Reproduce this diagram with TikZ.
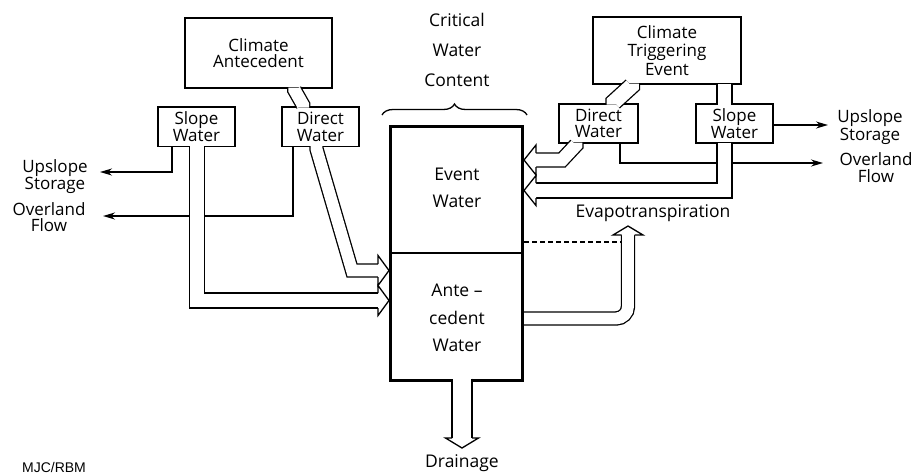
\documentclass[tikz,border=0pt]{standalone}
\usepackage{fontspec}
\setmainfont{Open Sans}
\newfontfamily\credfont{Liberation Sans}
\usetikzlibrary{arrows.meta,decorations.pathreplacing}
\tikzset{
  box/.style={draw, line width=1.3pt, fill=white, align=center, inner sep=0pt,
    font=\fontsize{17}{16.5}\selectfont},
  pipe/.style={line width=1.3pt, double=white, double distance=#1, line cap=butt, line join=miter},
  flow/.style={line width=1.5pt, -{Stealth[length=12pt,width=7pt]}},
  lbl/.style={align=center, inner sep=0pt},
}
\newcommand{\htip}[5]{%
  \begin{scope}[shift={#1}, rotate=#2]
    \filldraw[fill=white, line width=1.3pt, line join=miter] (0,#3) -- (0,#4) -- (#5,0) -- (0,-#4) -- (0,-#3);
  \end{scope}}
\begin{document}
\begin{tikzpicture}[x=1pt,y=-1pt]
\useasboundingbox[fill=white] (0,0) rectangle (915,475);

% boxes
\node[box, minimum width=147, minimum height=70] (climA) at (258.5,53) {Climate\\Antecedent};
\node[box, minimum width=77, minimum height=39.5] (slopeL) at (196.5,126.75) {Slope\\Water};
\node[box, minimum width=77, minimum height=39.5] (directL) at (320.5,126.75) {Direct\\Water};
\node[box, minimum width=148, minimum height=67, font=\fontsize{17}{18.5}\selectfont] (climT) at (667,50.5) {Climate\\Triggering\\Event};
\node[box, minimum width=79, minimum height=39] (directR) at (598.5,123.5) {Direct\\Water};
\node[box, minimum width=77, minimum height=39] (slopeR) at (734.5,123.5) {Slope\\Water};

% main store
\node[draw, line width=3pt, minimum width=132, minimum height=254, inner sep=0pt] (main) at (456.5,253) {};
\coordinate (divL) at (390.5,253);
\coordinate (divR) at (522.5,253);
\draw[line width=2pt] (divL) -- (divR);

% thin flows (drawn before pipes so pipes pass over them)
\coordinate (upL) at (100,172);
\coordinate (ovL) at (103,216);
\coordinate (ovR) at (823,163);
\coordinate (upR) at (828,125);
\draw[flow] (172,146.5) -- (172,172) -- (upL);
\draw[flow] (293,146.5) -- (293,216) -- (ovL);
\draw[flow] (620,143) -- (620,163) -- (ovR);
\draw[flow] (773,125) -- (upR);

% dashed level line
\draw[line width=1.3pt, dash pattern=on 5pt off 3pt] (524,242) -- (622,242);

% pipes left
\draw[pipe=12.3] (294.5,87.5) -- (294.5,90) -- (303,105) -- (303,107.5);
\draw[pipe=11.8] (316.5,146) -- (316.5,149) -- (352,270.5) -- (378,270.5);
\htip{(378,270.5)}{0}{6.5}{15}{11}
\draw[pipe=13.7] (197,146) -- (197,300.5) -- (378,300.5);
\htip{(378,300.5)}{0}{7.5}{15}{11}

% pipes right
\draw[pipe=14.8] (631.5,83.5) -- (631.5,86) -- (614,102) -- (614,104.5);
\draw[pipe=12.8] (576,142.5) -- (576,145) -- (562,160) -- (536,160);
\htip{(536,160)}{180}{7}{15}{12}
\draw[pipe=13.7] (724.5,83.5) -- (724.5,104.5);
\draw[pipe=13.7] (724.5,142.5) -- (724.5,190.5) -- (536,190.5);
\htip{(536,190.5)}{180}{7.5}{15}{12}

% evapotranspiration
\draw[pipe=11.8, rounded corners=12pt] (524,318.5) -- (628,318.5) -- (628,235);
\htip{(628,235)}{90}{6.5}{15}{9}

% drainage
\draw[pipe=18.8] (462,378.5) -- (462,438);
\htip{(462,438)}{-90}{10}{16.5}{10}

% brace
\draw[line width=1.3pt, decorate, decoration={brace, amplitude=11pt}] (382,115) -- (527,115);

% labels
\node[lbl, font=\fontsize{17.5}{30}\selectfont] (crit) at (457,50) {Critical\\Water\\Content};
\node[lbl, font=\fontsize{17.5}{27}\selectfont] (ev) at (457,188) {Event\\Water};
\node[lbl, font=\fontsize{17.5}{27.5}\selectfont] (ant) at (457,318) {Ante --\\cedent\\Water};
\node[lbl, font=\fontsize{17.5}{17}\selectfont] (drain) at (462,463) {Drainage};
\node[lbl, font=\fontsize{17.5}{17}\selectfont] (evap) at (653,213) {Evapotranspiration};
\node[lbl, font=\fontsize{17}{17}\selectfont] (usL) at (55,177) {Upslope\\Storage};
\node[lbl, font=\fontsize{17}{16}\selectfont] (ofL) at (49,217) {Overland\\Flow};
\node[lbl, font=\fontsize{17}{18}\selectfont] (usR) at (870,127) {Upslope\\Storage};
\node[lbl, font=\fontsize{17}{17}\selectfont] (ofR) at (876,168) {Overland\\Flow};
\node[lbl, font=\credfont\fontsize{14}{14}\selectfont] (cred) at (54,467) {MJC/RBM};
\end{tikzpicture}
\end{document}
